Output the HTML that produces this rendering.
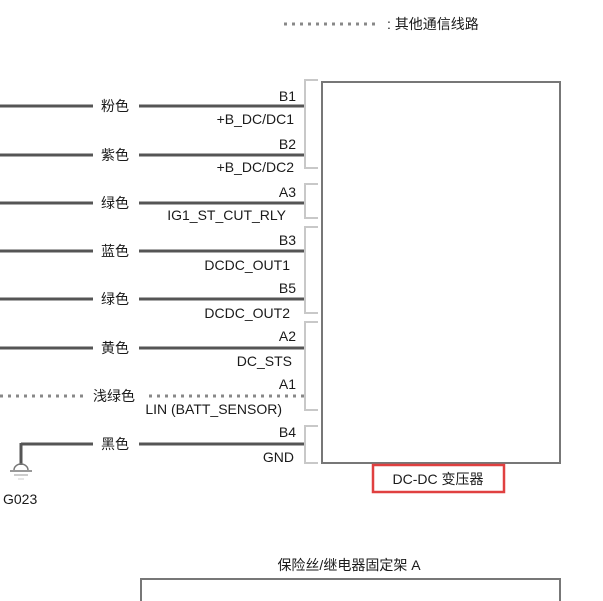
<!DOCTYPE html>
<html><head><meta charset="utf-8"><style>
html,body{margin:0;padding:0;background:#fff;}
svg{display:block;}
text{font-family:"Liberation Sans","Noto Sans CJK SC",sans-serif;font-size:14px;fill:#1a1a1a;}
</style></head><body>
<svg width="603" height="601" viewBox="0 0 603 601" xmlns="http://www.w3.org/2000/svg">
<line x1="284" y1="24" x2="380" y2="24" stroke="#888" stroke-width="3" stroke-dasharray="3,5"/>
<text x="387" y="29">: 其他通信线路</text>

<rect x="322" y="82" width="238" height="381" fill="none" stroke="#777" stroke-width="2"/>

<g fill="none" stroke="#c8c8c8" stroke-width="2">
<path d="M318 80 H305 V168 H318"/>
<path d="M318 184 H305 V218 H318"/>
<path d="M318 227 H305 V313 H318"/>
<path d="M318 322 H305 V410 H318"/>
<path d="M318 426 H305 V463 H318"/>
</g>

<g stroke="#555" stroke-width="3">
<line x1="0" y1="106" x2="93" y2="106"/><line x1="139" y1="106" x2="304" y2="106"/>
<line x1="0" y1="155" x2="93" y2="155"/><line x1="139" y1="155" x2="304" y2="155"/>
<line x1="0" y1="203" x2="93" y2="203"/><line x1="139" y1="203" x2="304" y2="203"/>
<line x1="0" y1="251" x2="93" y2="251"/><line x1="139" y1="251" x2="304" y2="251"/>
<line x1="0" y1="299" x2="93" y2="299"/><line x1="139" y1="299" x2="304" y2="299"/>
<line x1="0" y1="348" x2="93" y2="348"/><line x1="139" y1="348" x2="304" y2="348"/>
<line x1="21" y1="444" x2="93" y2="444"/><line x1="139" y1="444" x2="304" y2="444"/>
<line x1="21" y1="443" x2="21" y2="465"/>
</g>
<g stroke="#888" stroke-width="3" stroke-dasharray="3,5">
<line x1="0" y1="396" x2="84" y2="396"/><line x1="149" y1="396" x2="304" y2="396"/>
</g>
<path d="M14 470 A7 6 0 0 1 28 470" fill="none" stroke="#777" stroke-width="1.5"/>
<line x1="10" y1="471" x2="32" y2="471" stroke="#999" stroke-width="2"/>
<line x1="14" y1="475" x2="28" y2="475" stroke="#bbb" stroke-width="1.5"/>
<line x1="18" y1="479" x2="24" y2="479" stroke="#ccc" stroke-width="1"/>
<text x="3" y="504">G023</text>

<g text-anchor="middle">
<text x="115" y="111">粉色</text>
<text x="115" y="160">紫色</text>
<text x="115" y="208">绿色</text>
<text x="115" y="256">蓝色</text>
<text x="115" y="304">绿色</text>
<text x="115" y="353">黄色</text>
<text x="114" y="401">浅绿色</text>
<text x="115" y="449">黑色</text>
</g>
<g text-anchor="end">
<text x="296" y="101">B1</text><text x="294" y="124">+B_DC/DC1</text>
<text x="296" y="149">B2</text><text x="294" y="172">+B_DC/DC2</text>
<text x="296" y="197">A3</text><text x="286" y="220">IG1_ST_CUT_RLY</text>
<text x="296" y="245">B3</text><text x="290" y="270">DCDC_OUT1</text>
<text x="296" y="293">B5</text><text x="290" y="318">DCDC_OUT2</text>
<text x="296" y="341">A2</text><text x="292" y="366">DC_STS</text>
<text x="296" y="389">A1</text><text x="282" y="414">LIN (BATT_SENSOR)</text>
<text x="296" y="437">B4</text><text x="294" y="462">GND</text>
</g>

<rect x="373" y="465" width="131" height="27" fill="none" stroke="#e04040" stroke-width="2.5"/>
<text x="438" y="484" text-anchor="middle">DC-DC 变压器</text>

<text x="349" y="570" text-anchor="middle">保险丝/继电器固定架 A</text>
<rect x="141" y="579" width="419" height="40" fill="none" stroke="#777" stroke-width="2"/>
</svg>
</body></html>
